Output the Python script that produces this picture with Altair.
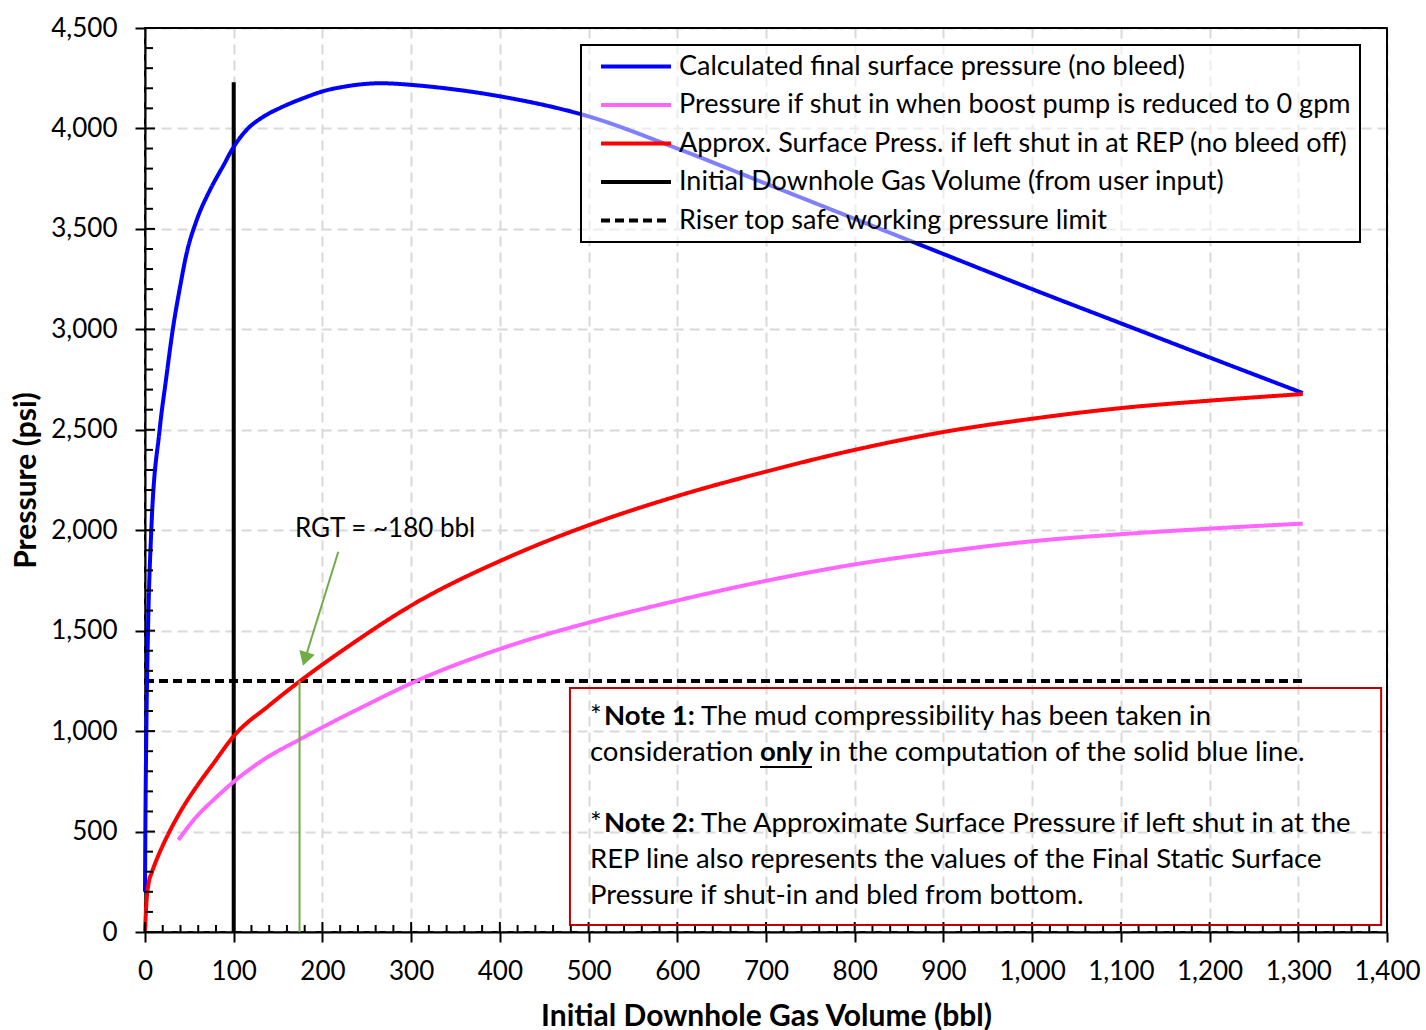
import altair as alt
import pandas as pd

# ---------------- data ----------------
series_names = [
    "Calculated final surface pressure (no bleed)",
    "Pressure if shut in when boost pump is reduced to 0 gpm",
    "Approx. Surface Press. if left shut in at REP (no bleed off)",
    "Initial Downhole Gas Volume (from user input)",
    "Riser top safe working pressure limit",
]
series_colors = ["#0000ff", "#ff66ff", "#ff0000", "#000000", "#000000"]
series_dashes = [[1, 0], [1, 0], [1, 0], [1, 0], [9, 5]]

blue_x = [0, 0.4, 1.5, 3.4, 7.1, 16.5, 24, 31, 39.5, 47, 58.3, 73.3, 88.3, 99.5, 114.6, 133.3,
          152.2, 178.1, 200.6, 227.4, 265.5, 302.7, 321.9, 400, 500, 600, 700, 800, 900, 1000, 1100,
          1200, 1305]
blue_y = [200, 500, 1000, 1500, 2000, 2500, 2760, 2990, 3211, 3380, 3544, 3694, 3815, 3905, 3993, 4058,
          4102, 4150, 4185, 4210, 4225, 4216, 4208, 4160, 4060, 3900, 3725, 3550, 3375, 3200, 3030,
          2860, 2683]

pink_x = [37.6, 58, 77, 100, 133, 175, 210, 246, 306, 411, 500, 600, 700, 800, 900, 1000, 1100, 1200, 1305]
pink_y = [458, 574, 657, 748, 856, 960, 1042, 1122, 1250, 1425, 1540, 1650, 1748, 1830, 1893, 1945, 1980, 2008, 2033]

red_x = [0, 1, 2, 4, 8, 14, 21, 30, 40, 58, 77, 100, 140, 175, 227, 300, 411, 500, 600, 700,
         800, 900, 1000, 1100, 1200, 1305]
red_y = [0, 100, 170, 240, 300, 370, 440, 520, 600, 723, 838, 975, 1128, 1250, 1415, 1625, 1868,
         2025, 2170, 2292, 2400, 2489, 2555, 2608, 2645, 2678]

init_x = [100, 100]
init_y = [0, 4230]

limit_x = [0, 1305]
limit_y = [1250, 1250]

x_ticks = list(range(0, 1401, 100))
y_ticks = list(range(0, 4501, 500))
x_minor = [v for v in range(20, 1400, 20) if v % 100]
y_minor = [v for v in range(100, 4500, 100) if v % 500]

rgt_x = [174.2, 174.2]
rgt_y = [0, 1250]
arrow_x = [217.9, 180.4]
arrow_y = [1893, 1359]
rgt_label = "RGT = ~180 bbl"
rgt_label_pos = (169.1, 2006)

note_box = {"x": [479], "x2": [1393.4], "y": [35], "y2": [1214.5]}
note_segments = [
    ("*", 501.6, 1070, "normal"),
    ("Note 1:", 517.5, 1070, "bold"),
    ("The mud compressibility has been taken in", 626.7, 1070, "normal"),
    ("consideration", 501.6, 891, "normal"),
    ("only", 693.3, 891, "bold"),
    ("in the computation of the solid blue line.", 759.8, 891, "normal"),
    ("*", 501.6, 538, "normal"),
    ("Note 2:", 517.5, 538, "bold"),
    ("The Approximate Surface Pressure if left shut in at the", 626.7, 538, "normal"),
    ("REP line also represents the values of the Final Static Surface", 501.6, 358, "normal"),
    ("Pressure if shut-in and bled from bottom.", 501.6, 179, "normal"),
]
underline = {"x": [693.3], "x2": [751.9], "y": [821]}

# ---------------- build ----------------
FONT = "Lato"
PLOT_W, PLOT_H = 1242, 904

xs = alt.Scale(domain=[0, 1400], nice=False, zero=False)
ys = alt.Scale(domain=[0, 4500], nice=False, zero=False)

x_axis = alt.Axis(values=x_ticks, format=",.0f", title="Initial Downhole Gas Volume (bbl)",
                  labelPadding=16, titleY=84, titleBaseline="middle", labelOverlap=False,
                  labelFlush=False)
y_axis = alt.Axis(values=y_ticks, format=",.0f", title="Pressure (psi)", labelPadding=18,
                  titleX=-119, titleY=452, titleBaseline="middle", titleAlign="center", titleAngle=270,
                  labelOverlap=False, labelFlush=False)


def X(field="x:Q"):
    return alt.X(field, scale=xs, axis=x_axis)


def Y(field="y:Q"):
    return alt.Y(field, scale=ys, axis=y_axis)


rows = []
for name, sx, sy in zip(series_names,
                        [blue_x, pink_x, red_x, init_x, limit_x],
                        [blue_y, pink_y, red_y, init_y, limit_y]):
    for i, (a, b) in enumerate(zip(sx, sy)):
        rows.append({"series": name, "x": a, "y": b, "i": i})
df = pd.DataFrame(rows)
curves = df[df["series"].isin(series_names[:3])]
straight = df[df["series"].isin(series_names[3:])]

legend = alt.Legend(
    title=None, orient="none", legendX=436, legendY=17,
    symbolType="stroke", symbolSize=4900, symbolStrokeWidth=4, symbolOffset=10,
    clipHeight=27, rowPadding=10.5, padding=8,
    labelFont=FONT, labelFontSize=27, labelColor="black", labelLimit=0, labelOffset=6,
    strokeColor="black", fillColor="rgba(255,255,255,0.5)",
)
color_enc = alt.Color("series:N", scale=alt.Scale(domain=series_names, range=series_colors), legend=legend)
dash_enc = alt.StrokeDash("series:N", scale=alt.Scale(domain=series_names, range=series_dashes), legend=legend)

ref_lines = alt.Chart(straight).mark_line(strokeWidth=4).encode(
    x=X(), y=Y(), color=color_enc, strokeDash=dash_enc, order="i:Q",
)
curve_lines = alt.Chart(curves).mark_line(strokeWidth=4, interpolate="monotone").encode(
    x=X(), y=Y(), color=color_enc, strokeDash=dash_enc, order="i:Q",
)

# inner tick marks
x_minor_ticks = alt.Chart(pd.DataFrame({"x": x_minor})).mark_rule(color="black", strokeWidth=2).encode(
    x=X(), y=alt.value(PLOT_H), y2=alt.value(PLOT_H - 7))
x_major_ticks = alt.Chart(pd.DataFrame({"x": x_ticks})).mark_rule(color="black", strokeWidth=2).encode(
    x=X(), y=alt.value(PLOT_H), y2=alt.value(PLOT_H - 10))
y_minor_ticks = alt.Chart(pd.DataFrame({"y": y_minor})).mark_rule(color="black", strokeWidth=2).encode(
    y=Y(), x=alt.value(0), x2=alt.value(8))
y_major_ticks = alt.Chart(pd.DataFrame({"y": y_ticks})).mark_rule(color="black", strokeWidth=2).encode(
    y=Y(), x=alt.value(0), x2=alt.value(10))

# solid frame on top and right (drawn over the grid)
frame_top = alt.Chart(pd.DataFrame({"k": [0]})).mark_rule(color="black", strokeWidth=2).encode(
    x=alt.value(0), x2=alt.value(PLOT_W), y=alt.value(0))
frame_right = alt.Chart(pd.DataFrame({"k": [0]})).mark_rule(color="black", strokeWidth=2).encode(
    x=alt.value(PLOT_W), y=alt.value(0), y2=alt.value(PLOT_H))

# RGT annotation
rgt_line = alt.Chart(pd.DataFrame({"x": rgt_x, "y": rgt_y})).mark_line(color="#70ad47", strokeWidth=2).encode(
    x=X(), y=Y())
arrow_line = alt.Chart(pd.DataFrame({"x": arrow_x, "y": arrow_y})).mark_line(color="#70ad47", strokeWidth=2).encode(
    x=X(), y=Y())
arrow_head = alt.Chart(pd.DataFrame({"x": arrow_x[1:], "y": arrow_y[1:]})).mark_point(
    shape="triangle-up", filled=True, color="#70ad47", size=260, angle=197, opacity=1).encode(
    x=X(), y=Y())
rgt_text = alt.Chart(pd.DataFrame({"x": [rgt_label_pos[0]], "y": [rgt_label_pos[1]], "t": [rgt_label]})).mark_text(
    align="left", baseline="middle", font=FONT, fontSize=26, color="black").encode(
    x=X(), y=Y(), text="t:N")

# note box
box = alt.Chart(pd.DataFrame(note_box)).mark_rect(fill="white", fillOpacity=0, stroke="#c00000", strokeWidth=2).encode(
    x=X(), x2="x2:Q", y=Y(), y2="y2:Q")
seg_df = pd.DataFrame(note_segments, columns=["t", "x", "y", "w"])
note_normal = alt.Chart(seg_df[seg_df["w"] == "normal"]).mark_text(
    align="left", baseline="middle", font=FONT, fontSize=27.5, color="black").encode(
    x=X(), y=Y(), text="t:N")
note_bold = alt.Chart(seg_df[seg_df["w"] == "bold"]).mark_text(
    align="left", baseline="middle", font=FONT, fontSize=27.5, fontWeight="bold", color="black").encode(
    x=X(), y=Y(), text="t:N")
under = alt.Chart(pd.DataFrame(underline)).mark_rule(color="black", strokeWidth=2).encode(
    x=X(), x2="x2:Q", y=Y())

chart = alt.layer(
    ref_lines, curve_lines,
    x_minor_ticks, x_major_ticks, y_minor_ticks, y_major_ticks, frame_top, frame_right,
    rgt_line, arrow_line, arrow_head, rgt_text,
    box, note_normal, note_bold, under,
).properties(
    width=PLOT_W, height=PLOT_H,
    autosize=alt.AutoSizeParams(type="none"),
    padding={"left": 145, "top": 28, "right": 39, "bottom": 98},
    background="white",
).configure(font=FONT).configure_view(
    stroke="black", strokeWidth=2,
).configure_axis(
    domainColor="black", domainWidth=2, tickColor="black", tickWidth=2, tickSize=10,
    labelFont=FONT, labelFontSize=26, labelColor="black",
    titleFont=FONT, titleFontSize=30, titleFontWeight="bold", titleColor="black",
    grid=True, gridColor="#d9d9d9", gridWidth=2, gridDash=[10, 6],
).configure_legend(strokeWidth=2)

chart.save("out.html", embed_options={"renderer": "svg", "actions": False})
